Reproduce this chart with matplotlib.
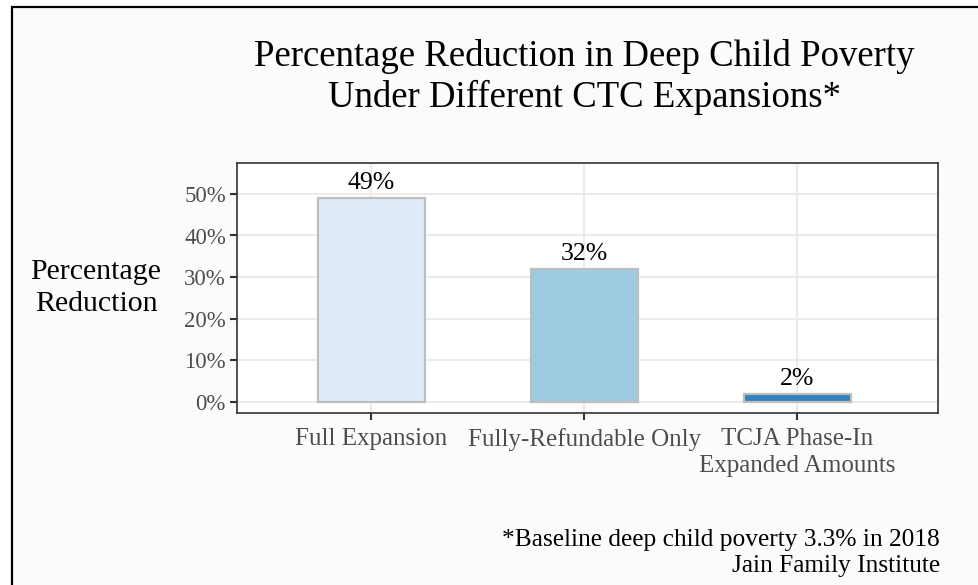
import matplotlib.pyplot as plt
from matplotlib.patches import Rectangle
from matplotlib.ticker import FuncFormatter

plt.rcParams['font.family'] = ['Liberation Serif', 'DejaVu Serif']

categories = ['Full Expansion', 'Fully-Refundable Only', 'TCJA Phase-In\nExpanded Amounts']
reduction = [49, 32, 2]
bar_labels = ['49%', '32%', '2%']
bar_colors = ['#DEEBF7', '#9ECAE1', '#3182BD']
yticks = [0, 10, 20, 30, 40, 50]

W, H = 979, 585
fig = plt.figure(figsize=(W / 100, H / 100), dpi=100, facecolor='white')

# off-white card with a black frame (cropped on the right/bottom)
fig.patches.append(Rectangle((12 / W, -0.05), 1.1, (H - 7) / H + 0.05,
                             transform=fig.transFigure, facecolor='#FCFBFA',
                             edgecolor='black', linewidth=1.6, zorder=-5))

ax = fig.add_axes([237 / W, (H - 413) / H, (938 - 237) / W, (413 - 163) / H])
ax.set_facecolor('white')

x = [1, 2, 3]
ax.bar(x, reduction, width=0.5, color=bar_colors, edgecolor='#BEBEBE',
       linewidth=1.6, zorder=3)
for xi, v, lab in zip(x, reduction, bar_labels):
    ax.text(xi, v + 0.9, lab, ha='center', va='bottom', fontsize=18.5,
            color='black', zorder=4)

ax.set_xlim(0.37, 3.66)
ax.set_ylim(-2.6, 57.4)
ax.set_xticks(x)
ax.set_xticklabels(categories, fontsize=18, color='#4D4D4D', linespacing=1.3)
ax.set_yticks(yticks)
ax.yaxis.set_major_formatter(FuncFormatter(lambda v, p: f'{v:.0f}%'))
for t in ax.get_yticklabels():
    t.set_fontsize(16.5)
    t.set_color('#4D4D4D')

ax.grid(True, color='#EBEBEB', linewidth=1.5, zorder=0)
ax.set_axisbelow(True)
for s in ax.spines.values():
    s.set_color('#333333')
    s.set_linewidth(1.2)
ax.tick_params(axis='both', length=5, width=1.5, color='#333333', pad=3)
ax.tick_params(axis='x', pad=6)

ax.set_ylabel('Percentage\nReduction', rotation=0, fontsize=21.5, color='black',
              ha='center', va='center', linespacing=1.3)
ax.yaxis.set_label_coords((96 - 237) / (938 - 237), 0.5)

fig.text(584 / W, 1 - 57 / H, 'Percentage Reduction in Deep Child Poverty',
         ha='center', va='center', fontsize=26.5, color='black')
fig.text(584 / W, 1 - 97 / H, 'Under Different CTC Expansions*',
         ha='center', va='center', fontsize=26.5, color='black')

fig.text(940 / W, 1 - 540 / H, '*Baseline deep child poverty 3.3% in 2018',
         ha='right', va='center', fontsize=18.3, color='black')
fig.text(940 / W, 1 - 566 / H, 'Jain Family Institute',
         ha='right', va='center', fontsize=18.3, color='black')

fig.savefig('out.png', dpi=100, facecolor=fig.get_facecolor())
